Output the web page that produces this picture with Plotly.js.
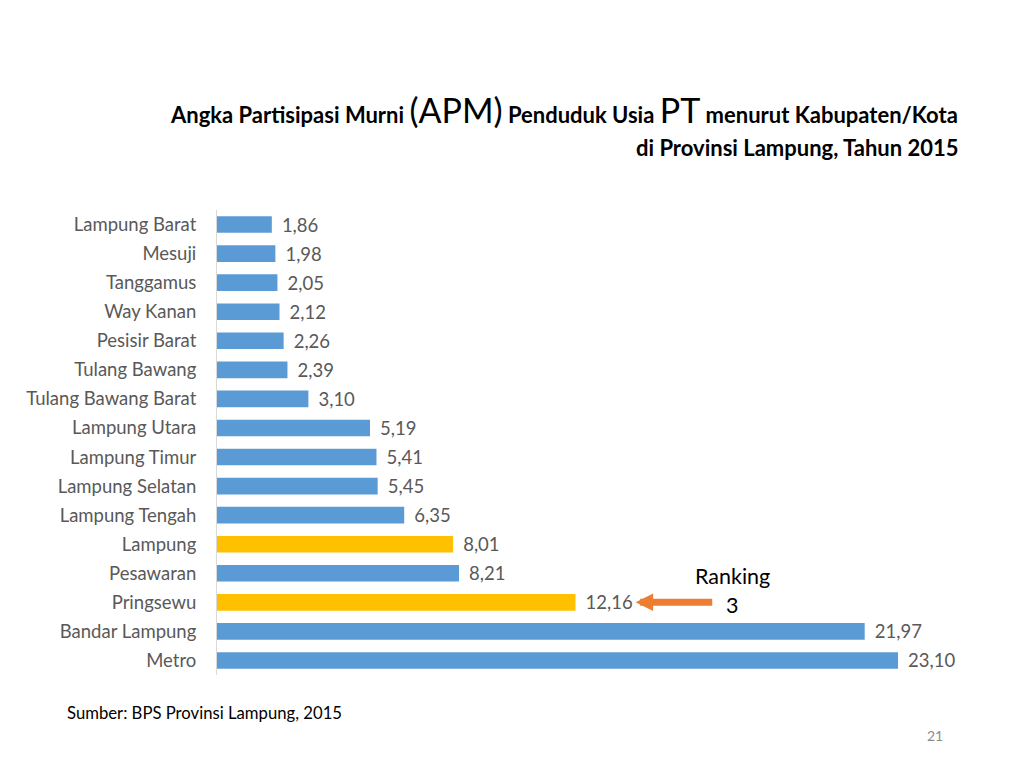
<!DOCTYPE html>
<html>
<head>
<meta charset="utf-8">
<script src="https://cdn.plot.ly/plotly-3.0.1.min.js"></script>
<style>
  html, body { margin: 0; padding: 0; background: #fff; }
  #chart { width: 1024px; height: 768px; }
</style>
</head>
<body>
<div id="chart"></div>
<script>
// data, top to bottom as in the picture
var regions = ['Lampung Barat', 'Mesuji', 'Tanggamus', 'Way Kanan', 'Pesisir Barat',
  'Tulang Bawang', 'Tulang Bawang Barat', 'Lampung Utara', 'Lampung Timur',
  'Lampung Selatan', 'Lampung Tengah', 'Lampung', 'Pesawaran', 'Pringsewu',
  'Bandar Lampung', 'Metro'];
var apm = [1.86, 1.98, 2.05, 2.12, 2.26, 2.39, 3.10, 5.19, 5.41, 5.45, 6.35, 8.01,
  8.21, 12.16, 21.97, 23.10];
var highlighted = ['Lampung', 'Pringsewu'];

var FONT = 'Lato, "Open Sans", sans-serif';
var BLUE = '#5B9BD5';
var GOLD = '#FFC000';

var colors = regions.map(function (r) {
  return highlighted.indexOf(r) >= 0 ? GOLD : BLUE;
});
var labels = apm.map(function (v) {
  return '\u00A0\u2009' + v.toFixed(2).replace('.', ',');
});

var trace = {
  type: 'bar',
  orientation: 'h',
  x: apm,
  y: regions,
  marker: { color: colors },
  text: labels,
  textposition: 'outside',
  constraintext: 'none',
  cliponaxis: false,
  textfont: { family: FONT, size: 18.5, color: '#595959' },
  hoverinfo: 'skip'
};

var layout = {
  width: 1024,
  height: 768,
  margin: { l: 217, r: 69.5, t: 209.5, b: 93.4 },
  paper_bgcolor: '#fff',
  plot_bgcolor: '#fff',
  showlegend: false,
  bargap: 0.43,
  font: { family: FONT, color: '#595959' },
  xaxis: {
    range: [0, 25],
    visible: false,
    fixedrange: true
  },
  yaxis: {
    autorange: 'reversed',
    showline: true,
    linecolor: '#D9D9D9',
    linewidth: 1,
    showgrid: false,
    zeroline: false,
    ticks: 'outside',
    ticklen: 16,
    tickcolor: 'rgba(0,0,0,0)',
    tickfont: { family: FONT, size: 18.5, color: '#595959' },
    fixedrange: true
  },
  annotations: [
    {
      xref: 'paper', yref: 'paper', x: 1.0086, y: 1.216,
      xanchor: 'right', yanchor: 'middle', showarrow: false,
      font: { family: FONT, size: 22, color: '#000' },
      text: '<b>Angka Partisipasi Murni </b><span style="font-size:34px">(APM)</span>' +
        '<b> Penduduk Usia </b><span style="font-size:34px">PT</span>' +
        '<b> menurut Kabupaten/Kota</b>'
    },
    {
      xref: 'paper', yref: 'paper', x: 1.009, y: 1.134,
      xanchor: 'right', yanchor: 'middle', showarrow: false,
      font: { family: FONT, size: 22, color: '#000' },
      text: '<b>di Provinsi Lampung, Tahun 2015</b>'
    },
    {
      xref: 'paper', yref: 'paper', x: -0.206, y: -0.0825,
      xanchor: 'left', yanchor: 'middle', showarrow: false,
      font: { family: FONT, size: 16.7, color: '#000' },
      text: 'Sumber: BPS Provinsi Lampung, 2015'
    },
    {
      xref: 'paper', yref: 'paper', x: 0.9736, y: -0.130,
      xanchor: 'center', yanchor: 'middle', showarrow: false,
      font: { family: FONT, size: 14, color: '#8C8C8C' },
      text: '21'
    },
    {
      xref: 'x', yref: 'paper', x: 17.49, y: 0.212,
      xanchor: 'center', yanchor: 'middle', showarrow: false,
      font: { family: FONT, size: 21.5, color: '#000' },
      text: 'Ranking'
    },
    {
      xref: 'x', yref: 'paper', x: 17.46, y: 0.1496,
      xanchor: 'center', yanchor: 'middle', showarrow: false,
      font: { family: FONT, size: 21.5, color: '#000' },
      text: '3'
    },
    {
      xref: 'x', yref: 'y', x: 14.2, y: 'Pringsewu',
      axref: 'x', ayref: 'y', ax: 16.85, ay: 'Pringsewu',
      text: '', showarrow: true,
      arrowhead: 2, arrowsize: 0.5, arrowwidth: 7,
      arrowcolor: '#ED7D31', standoff: 0
    }
  ]
};

Plotly.newPlot('chart', [trace], layout, { displayModeBar: false, staticPlot: true });
</script>
</body>
</html>
